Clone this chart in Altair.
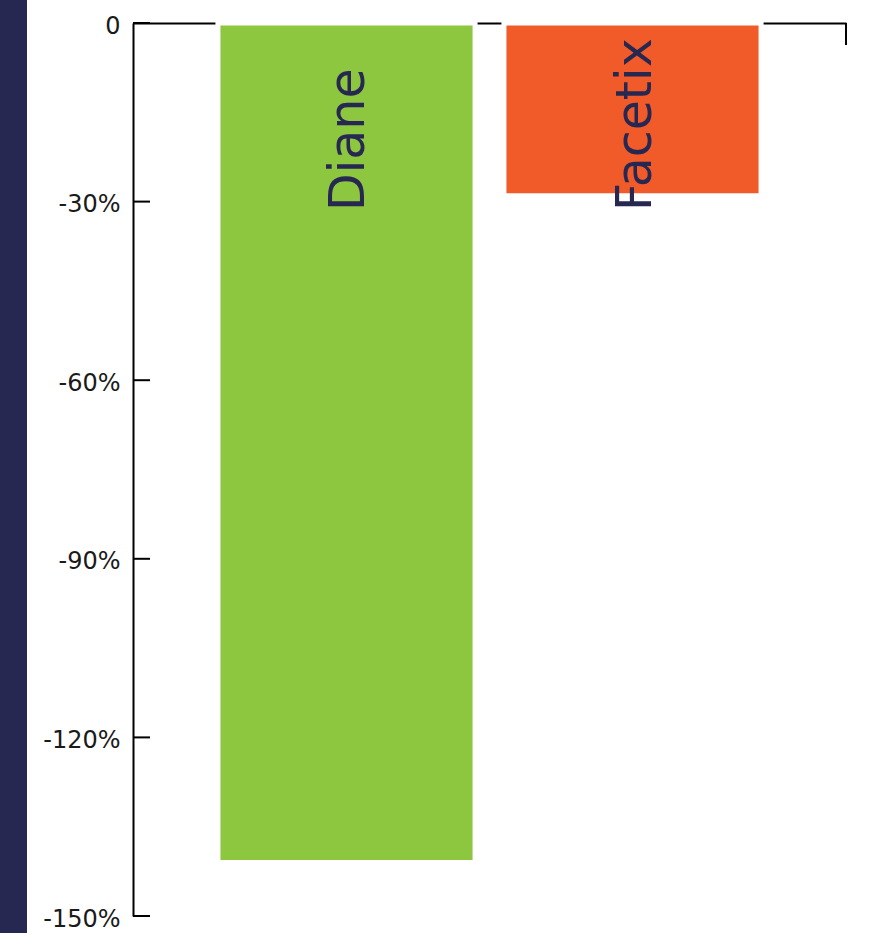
import altair as alt
import pandas as pd

categories = ["Diane", "Facetix"]
values = [-141, -29]
bar_colors = ["#8DC63F", "#F15A29"]
y_tick_values = [0, -30, -60, -90, -120, -150]

NAVY = "#262852"
FONT = "DejaVu Sans"

df = pd.DataFrame({"name": categories, "value": values})
ticks_df = pd.DataFrame({"t": y_tick_values})

W, H = 713, 893

x_enc = alt.X(
    "name:N",
    sort=categories,
    scale=alt.Scale(paddingInner=0.101, paddingOuter=0.297),
    axis=alt.Axis(orient="top", title=None, labels=False, ticks=False,
                  domain=True, domainColor="black", domainWidth=2),
)
y_scale = alt.Scale(domain=[-150, 0], nice=False, zero=True)

bars = alt.Chart(df).mark_bar(stroke="white", strokeWidth=5).encode(
    x=x_enc,
    y=alt.Y(
        "value:Q",
        scale=y_scale,
        axis=alt.Axis(
            orient="left", title=None, values=y_tick_values, grid=False,
            ticks=False, domain=True, domainColor="black", domainWidth=2,
            labelPadding=13, labelFontSize=24, labelFont=FONT,
            labelColor="#1a1a1a", labelBaseline="middle", labelOffset=3,
            labelExpr="datum.value == 0 ? '0' : datum.value + '%'",
        ),
    ),
    color=alt.Color("name:N", scale=alt.Scale(domain=categories, range=bar_colors), legend=None),
)

labels = alt.Chart(df).mark_text(
    angle=270, align="left", baseline="alphabetic", dy=18,
    fontSize=49, font=FONT, color=NAVY,
).encode(
    x=alt.X("name:N", sort=categories),
    y=alt.value(188),
    text="name:N",
)

y_ticks = alt.Chart(ticks_df).mark_rule(color="black", strokeWidth=2).encode(
    y=alt.Y("t:Q", scale=y_scale),
    x=alt.value(0),
    x2=alt.value(17),
)

corner_tick = alt.Chart(pd.DataFrame({"a": [0]})).mark_rule(color="black", strokeWidth=2).encode(
    x=alt.value(W), y=alt.value(0), y2=alt.value(22)
)

strip = alt.Chart(pd.DataFrame({"a": [0]})).mark_rect(color=NAVY).encode(
    x=alt.value(-133), x2=alt.value(-106), y=alt.value(-23), y2=alt.value(H + 17)
)

chart = alt.layer(strip, bars, y_ticks, corner_tick, labels).properties(
    width=W, height=H,
    padding={"left": 133, "top": 23, "right": 23, "bottom": 17},
    autosize=alt.AutoSizeParams(type="none"),
    background="white",
).configure_view(stroke=None)

chart.save("out.html", embed_options={"renderer": "svg", "actions": False})
